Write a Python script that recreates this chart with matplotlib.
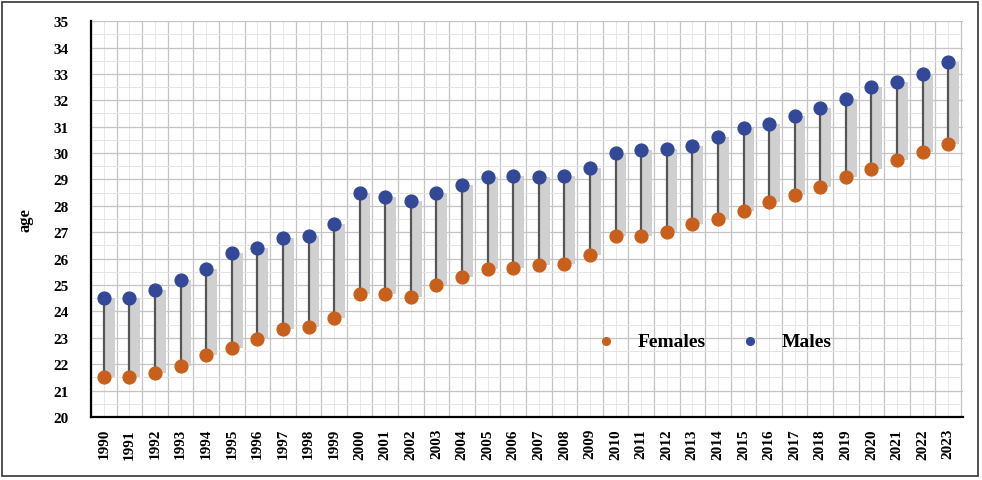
import matplotlib.pyplot as plt
from matplotlib.patches import Rectangle
from matplotlib.ticker import MultipleLocator
import numpy as np

years = [str(y) for y in range(1990, 2024)]
males = [24.5, 24.5, 24.8, 25.2, 25.6, 26.2, 26.4, 26.8, 26.85, 27.3,
         28.5, 28.35, 28.2, 28.5, 28.8, 29.1, 29.15, 29.1, 29.15, 29.45,
         30.0, 30.1, 30.15, 30.25, 30.6, 30.95, 31.1, 31.4, 31.7, 32.05,
         32.5, 32.7, 33.0, 33.45]
females = [21.5, 21.5, 21.65, 21.95, 22.35, 22.6, 22.95, 23.35, 23.4, 23.75,
           24.65, 24.65, 24.55, 25.0, 25.3, 25.6, 25.65, 25.75, 25.8, 26.15,
           26.85, 26.85, 27.0, 27.3, 27.5, 27.8, 28.15, 28.4, 28.7, 29.1,
           29.4, 29.75, 30.05, 30.35]

plt.rcParams['font.family'] = ['Liberation Serif', 'DejaVu Serif']
plt.rcParams['font.weight'] = 'bold'

fig = plt.figure(figsize=(9.82, 4.81), dpi=100)
ax = fig.add_axes([0.0927, 0.131, 0.888, 0.823])

x = np.arange(len(years))
lo = np.array(females)
hi = np.array(males)

# grey "shadow" bar between the two dots with a dark drop line on its left
ax.bar(x, hi - lo, bottom=lo, width=0.42, align='edge', color='#d0d0d0',
       edgecolor='none', zorder=2)
ax.vlines(x, lo, hi, color='#555555', lw=1.6, zorder=3)

ax.scatter(x, females, s=85, color='#c8601c', zorder=4, label='Females')
ax.scatter(x, males, s=85, color='#334896', zorder=4, label='Males')

ax.set_xlim(-0.47, 33.58)
ax.set_ylim(20, 35)
ax.yaxis.set_major_locator(MultipleLocator(1))
ax.yaxis.set_minor_locator(MultipleLocator(0.5))
ax.set_xticks(x)
ax.set_xticklabels(years, rotation=90, fontsize=11, fontweight='bold')
ax.set_xticks(np.arange(-0.5, len(years), 1), minor=True)
for lab in ax.get_yticklabels():
    lab.set_fontsize(11)
    lab.set_fontweight('bold')

ax.grid(which='major', axis='y', color='#c4c4c4', lw=0.9)
ax.grid(which='minor', axis='y', color='#e4e4e4', lw=0.7)
ax.grid(which='minor', axis='x', color='#c4c4c4', lw=0.9)
ax.grid(which='major', axis='x', color='#e8e8e8', lw=0.7)
ax.set_axisbelow(True)
ax.tick_params(which='both', length=0)
ax.tick_params(axis='y', pad=16)
ax.tick_params(axis='x', pad=8)

for side in ['top', 'right']:
    ax.spines[side].set_visible(False)
ax.spines['left'].set_linewidth(1.6)
ax.spines['bottom'].set_linewidth(1.6)

ax.set_ylabel('age', fontsize=12, fontweight='bold', labelpad=14)

ax.legend(loc='center', bbox_to_anchor=(0.722, 0.289),
          bbox_transform=fig.transFigure, ncol=2, frameon=False,
          fontsize=14, markerscale=0.6, handletextpad=0.6, columnspacing=1.3)

fig.patches.append(Rectangle((0.002, 0.008), 0.994, 0.986, transform=fig.transFigure,
                             fill=False, edgecolor='#333333', lw=1.2))

fig.savefig('out.png', dpi=100)
